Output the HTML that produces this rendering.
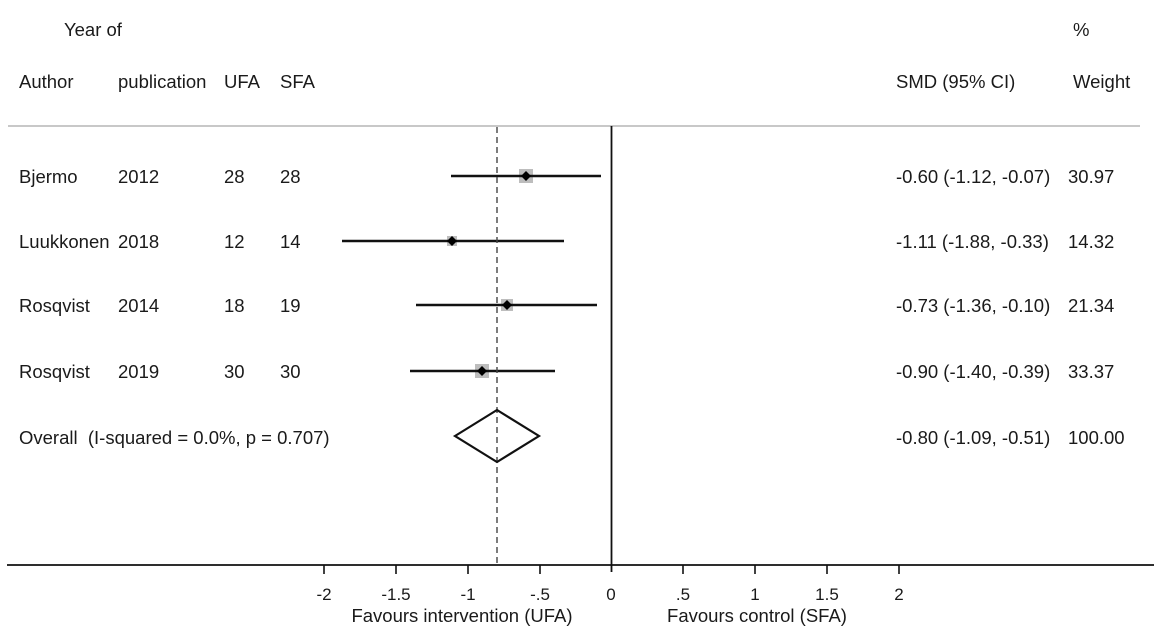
<!DOCTYPE html>
<html><head><meta charset="utf-8"><style>
html,body{margin:0;padding:0;background:#fff;}
svg{display:block;}
text{font-family:"Liberation Sans",Arial,sans-serif;font-size:18.5px;fill:#1a1a1a;white-space:pre;}
.t{font-size:17px;}
</style></head><body>
<svg width="1162" height="643" viewBox="0 0 1162 643" xmlns="http://www.w3.org/2000/svg">
<text x="64" y="36">Year of</text>
<text x="1073" y="36">%</text>
<text x="19" y="88">Author</text>
<text x="118" y="88">publication</text>
<text x="224" y="88">UFA</text>
<text x="280" y="88">SFA</text>
<text x="896" y="88">SMD (95% CI)</text>
<text x="1073" y="88">Weight</text>
<line x1="8" y1="126" x2="1140" y2="126" stroke="#c8c8c8" stroke-width="2"/>

<text x="19" y="183">Bjermo</text><text x="118" y="183">2012</text><text x="224" y="183">28</text><text x="280" y="183">28</text>
<text x="896" y="183">-0.60 (-1.12, -0.07)</text><text x="1068" y="183">30.97</text>
<text x="19" y="248">Luukkonen</text><text x="118" y="248">2018</text><text x="224" y="248">12</text><text x="280" y="248">14</text>
<text x="896" y="248">-1.11 (-1.88, -0.33)</text><text x="1068" y="248">14.32</text>
<text x="19" y="312">Rosqvist</text><text x="118" y="312">2014</text><text x="224" y="312">18</text><text x="280" y="312">19</text>
<text x="896" y="312">-0.73 (-1.36, -0.10)</text><text x="1068" y="312">21.34</text>
<text x="19" y="378">Rosqvist</text><text x="118" y="378">2019</text><text x="224" y="378">30</text><text x="280" y="378">30</text>
<text x="896" y="378">-0.90 (-1.40, -0.39)</text><text x="1068" y="378">33.37</text>
<text x="19" y="444">Overall  (I-squared = 0.0%, p = 0.707)</text>
<text x="896" y="444">-0.80 (-1.09, -0.51)</text><text x="1068" y="444">100.00</text>

<rect x="519" y="169" width="14" height="14" fill="#bdbdbd"/>
<rect x="447" y="236" width="10" height="10" fill="#bdbdbd"/>
<rect x="501" y="299" width="12" height="12" fill="#bdbdbd"/>
<rect x="475" y="364" width="14" height="14" fill="#bdbdbd"/>
<g stroke="#111" stroke-width="2.5">
<line x1="451" y1="176" x2="601" y2="176"/>
<line x1="342" y1="241" x2="564" y2="241"/>
<line x1="416" y1="305" x2="597" y2="305"/>
<line x1="410" y1="371" x2="555" y2="371"/>
</g>
<g fill="#000">
<polygon points="526,171 531,176 526,181 521,176"/>
<polygon points="452,236 457,241 452,246 447,241"/>
<polygon points="507,300 512,305 507,310 502,305"/>
<polygon points="482,366 487,371 482,376 477,371"/>
</g>
<line x1="497" y1="127" x2="497" y2="565" stroke="#444" stroke-width="1.4" stroke-dasharray="6,4"/>
<polygon points="455,436 497,410 539,436 497,462" fill="none" stroke="#111" stroke-width="2.2"/>
<line x1="611.5" y1="126" x2="611.5" y2="572" stroke="#111" stroke-width="1.8"/>
<line x1="7" y1="565" x2="1154" y2="565" stroke="#111" stroke-width="1.8"/>
<g stroke="#111" stroke-width="1.6">
<line x1="324" y1="565" x2="324" y2="574"/>
<line x1="396" y1="565" x2="396" y2="574"/>
<line x1="468" y1="565" x2="468" y2="574"/>
<line x1="540" y1="565" x2="540" y2="574"/>
<line x1="683" y1="565" x2="683" y2="574"/>
<line x1="755" y1="565" x2="755" y2="574"/>
<line x1="827" y1="565" x2="827" y2="574"/>
<line x1="899" y1="565" x2="899" y2="574"/>
</g>
<g text-anchor="middle">
<text class="t" x="324" y="600">-2</text><text class="t" x="396" y="600">-1.5</text><text class="t" x="468" y="600">-1</text><text class="t" x="540" y="600">-.5</text>
<text class="t" x="611" y="600">0</text><text class="t" x="683" y="600">.5</text><text class="t" x="755" y="600">1</text><text class="t" x="827" y="600">1.5</text><text class="t" x="899" y="600">2</text>
<text x="462" y="622">Favours intervention (UFA)</text>
<text x="757" y="622">Favours control (SFA)</text>
</g>
</svg>
</body></html>
